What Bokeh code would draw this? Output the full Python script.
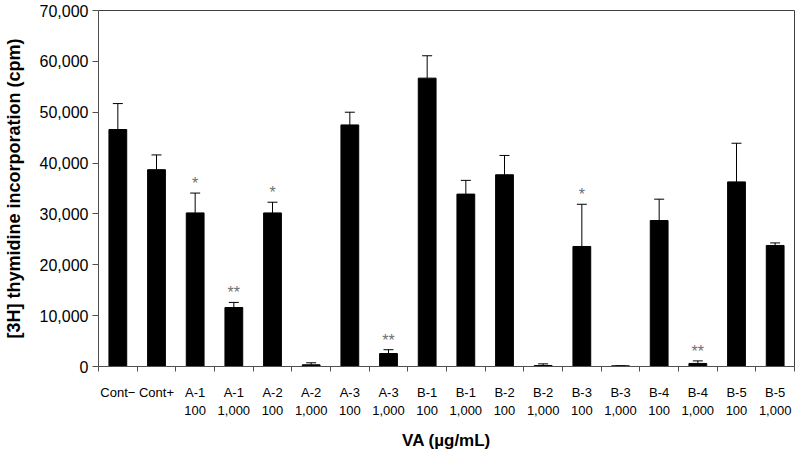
from bokeh.plotting import figure
from bokeh.models import ColumnDataSource, Whisker, TeeHead, FixedTicker, Range1d, NumeralTickFormatter
from bokeh.core.properties import value
from bokeh.embed import file_html
from bokeh.resources import INLINE

labels = ["Cont\u2212", "Cont+", "A-1\n100", "A-1\n1,000", "A-2\n100", "A-2\n1,000",
          "A-3\n100", "A-3\n1,000", "B-1\n100", "B-1\n1,000", "B-2\n100", "B-2\n1,000",
          "B-3\n100", "B-3\n1,000", "B-4\n100", "B-4\n1,000", "B-5\n100", "B-5\n1,000"]
values = [46600, 38700, 30200, 11600, 30200, 330, 47500, 2550, 56700, 33900,
          37700, 200, 23600, 130, 28700, 600, 36300, 23800]
sd = [5100, 2900, 3900, 1000, 2100, 400, 2500, 750, 4400, 2700,
      3800, 320, 8300, 0, 4200, 500, 7600, 500]
stars = ["", "", "*", "**", "*", "", "", "**", "", "", "", "", "*", "", "", "**", "", ""]
y_ticks = [0, 10000, 20000, 30000, 40000, 50000, 60000, 70000]

n = len(labels)
centers = [i + 0.5 for i in range(n)]
upper = [v + s for v, s in zip(values, sd)]

src = ColumnDataSource(dict(x=centers, value=values, upper=upper, stars=stars))

FONT = "Liberation Sans"

p = figure(width=798, height=452, output_backend="svg", toolbar_location=None,
           x_range=Range1d(0, n), y_range=Range1d(0, 70000),
           min_border_left=94, min_border_right=4, min_border_top=10, min_border_bottom=86)

p.vbar(x="x", top="value", width=0.46, source=src, fill_color="black", line_color="black")

wh = Whisker(source=src, base="x", upper="upper", lower="value", dimension="height",
             line_color="black", line_width=1,
             upper_head=TeeHead(size=10, line_color="black", line_width=1), lower_head=None)
p.add_layout(wh)

p.text(x="x", y="upper", text="stars", source=src, text_align="center", text_baseline="bottom",
       y_offset=-1, text_font=value(FONT), text_font_size="16px", text_color="#707070")

p.grid.visible = False
p.outline_line_color = "#404040"
p.background_fill_color = "white"
p.border_fill_color = "white"

# y axis
p.yaxis.ticker = FixedTicker(ticks=y_ticks)
p.yaxis.formatter = NumeralTickFormatter(format="0,0")
p.yaxis.major_tick_out = 6
p.yaxis.major_tick_in = 0
p.yaxis.minor_tick_line_color = None
p.yaxis.major_label_standoff = 4
p.yaxis.major_label_text_font = FONT
p.yaxis.major_label_text_font_size = "16px"
p.yaxis.major_label_text_color = "black"
p.yaxis.axis_line_color = "#505050"
p.yaxis.major_tick_line_color = "#505050"
p.yaxis.axis_label = "[3H] thymidine incorporation (cpm)"
p.yaxis.axis_label_text_font = FONT
p.yaxis.axis_label_text_font_style = "bold"
p.yaxis.axis_label_text_font_size = "18px"
p.yaxis.axis_label_text_color = "black"
p.yaxis.axis_label_standoff = 13

# x axis
p.xaxis.ticker = FixedTicker(ticks=centers, minor_ticks=list(range(n + 1)))
p.xaxis.major_label_overrides = {c: lab for c, lab in zip(centers, labels)}
p.xaxis.major_tick_out = 0
p.xaxis.major_tick_in = 0
p.xaxis.minor_tick_out = 5
p.xaxis.minor_tick_in = 0
p.xaxis.minor_tick_line_color = "#505050"
p.xaxis.axis_line_color = "#505050"
p.xaxis.major_label_standoff = 13
p.xaxis.major_label_text_font = FONT
p.xaxis.major_label_text_font_size = "13px"
p.xaxis.major_label_text_color = "black"
p.xaxis.axis_label = "VA (\u00b5g/mL)"
p.xaxis.axis_label_text_font = FONT
p.xaxis.axis_label_text_font_style = "bold"
p.xaxis.axis_label_text_font_size = "17px"
p.xaxis.axis_label_text_color = "black"
p.xaxis.axis_label_standoff = 10

open("out.html", "w").write(file_html(p, INLINE))
